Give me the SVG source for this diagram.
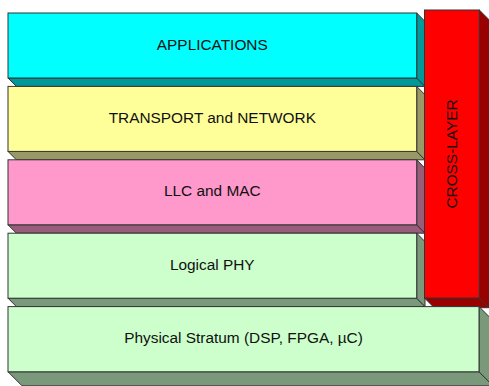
<svg xmlns="http://www.w3.org/2000/svg" width="489" height="386" viewBox="0 0 489 386">
<style>
  .f{stroke:#333;stroke-width:1;stroke-linejoin:miter}
  text{font-family:"Liberation Sans",Arial,sans-serif;font-size:15.4px;fill:#111;text-anchor:middle}
</style>
<rect width="489" height="386" fill="#fff"/>
<g id="applications">
  <polygon class="f" fill="#009999" points="8,78 416.7,78 425,86.4 16.4,86.4"/>
  <polygon class="f" fill="#009999" points="416.7,13 425,21.4 425,86.4 416.7,78"/>
  <rect class="f" fill="#00FFFF" x="8" y="13" width="408.7" height="65"/>
  <text x="212.3" y="49.5">APPLICATIONS</text>
</g>
<g id="transport">
  <polygon class="f" fill="#999966" points="8,151.4 416.7,151.4 425,159.8 16.4,159.8"/>
  <polygon class="f" fill="#999966" points="416.7,86.4 425,94.8 425,159.8 416.7,151.4"/>
  <rect class="f" fill="#FFFF99" x="8" y="86.4" width="408.7" height="65"/>
  <text x="212.3" y="123">TRANSPORT and NETWORK</text>
</g>
<g id="llc">
  <polygon class="f" fill="#995C7A" points="8,224.8 416.7,224.8 425,233.2 16.4,233.2"/>
  <polygon class="f" fill="#995C7A" points="416.7,159.8 425,168.2 425,233.2 416.7,224.8"/>
  <rect class="f" fill="#FF99CC" x="8" y="159.8" width="408.7" height="65"/>
  <text x="212.3" y="196.3">LLC and MAC</text>
</g>
<g id="logical-phy">
  <polygon class="f" fill="#7A997A" points="8,298.2 416.7,298.2 425,306.6 16.4,306.6"/>
  <polygon class="f" fill="#7A997A" points="416.7,233.2 425,241.6 425,306.6 416.7,298.2"/>
  <rect class="f" fill="#CCFFCC" x="8" y="233.2" width="408.7" height="65"/>
  <text x="212.3" y="269.7">Logical PHY</text>
</g>
<g id="cross-layer">
  <polygon class="f" fill="#990000" points="424.5,298 479.3,298 489,307.7 434.2,307.7"/>
  <polygon class="f" fill="#990000" points="479.3,10 489,19.7 489,307.7 479.3,298"/>
  <rect class="f" fill="#FF0000" x="424.5" y="10" width="54.8" height="288"/>
  <text transform="translate(456.5,154) rotate(-90)" x="0" y="0">CROSS-LAYER</text>
</g>
<g id="physical">
  <polygon class="f" fill="#7A997A" points="8,371.8 479,371.8 493,385.8 22,385.8"/>
  <polygon class="f" fill="#7A997A" points="479,306.6 493,320.6 493,385.8 479,371.8"/>
  <rect class="f" fill="#CCFFCC" x="8" y="306.6" width="471" height="65.2"/>
  <text x="243.5" y="343.3">Physical Stratum (DSP, FPGA, µC)</text>
</g>
<g id="connectors"/>
</svg>
